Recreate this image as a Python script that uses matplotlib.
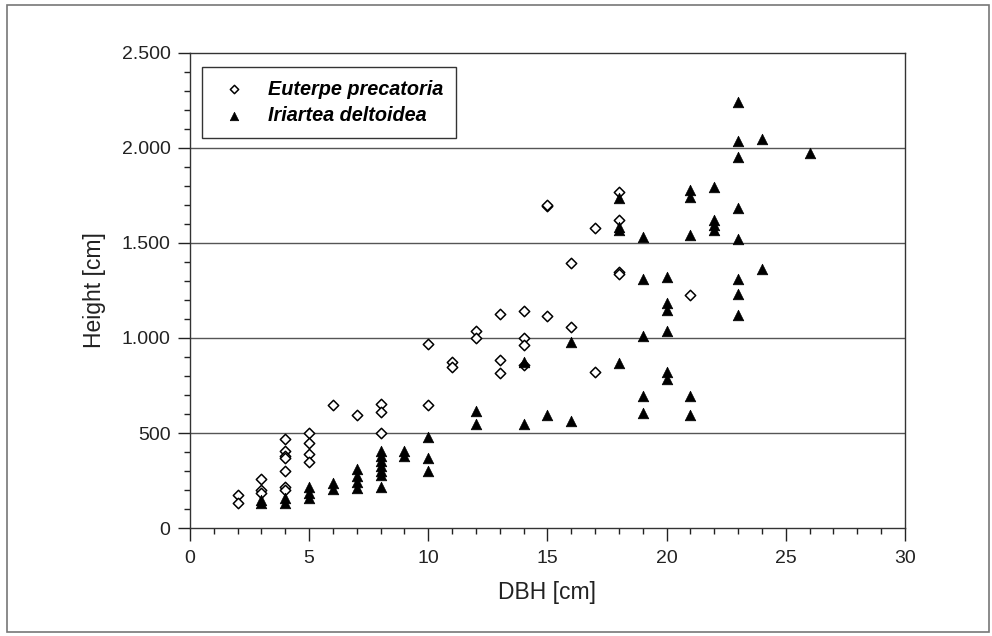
import matplotlib
matplotlib.use('Agg')
import matplotlib.pyplot as plt
from matplotlib.ticker import MultipleLocator, FuncFormatter
from matplotlib.patches import Rectangle

plt.rcParams['font.family'] = ['Liberation Sans', 'DejaVu Sans']

# Euterpe precatoria (open diamonds)
euterpe_dbh = [2, 2,
               3, 3, 3,
               4, 4, 4, 4, 4, 4, 4,
               5, 5, 5, 5,
               6, 7, 8, 8, 8,
               10, 10, 11, 11, 12, 12,
               13, 13, 13, 14, 14, 14, 14,
               15, 15, 15, 16, 16, 17, 17,
               18, 18, 18, 18, 21]
euterpe_height = [174, 132,
                  257, 200, 182,
                  470, 404, 379, 367, 302, 215, 198,
                  502, 449, 389, 349,
                  646, 597, 650, 610, 498,
                  967, 647, 875, 848, 1037, 998,
                  1125, 884, 814, 1142, 998, 963, 860,
                  1695, 1700, 1114, 1395, 1060, 1577, 823,
                  1770, 1621, 1345, 1338, 1226]

# Iriartea deltoidea (filled triangles)
iriartea_dbh = [3, 3, 4, 4, 5, 5, 5, 6, 6,
                7, 7, 7, 7,
                8, 8, 8, 8, 8, 8, 8,
                9, 9, 10, 10, 10,
                12, 12, 14, 14, 15, 16, 16,
                18, 18, 18, 18,
                19, 19, 19, 19, 19,
                20, 20, 20, 20, 20, 20,
                21, 21, 21, 21, 21,
                22, 22, 22, 22,
                23, 23, 23, 23, 23, 23, 23, 23,
                24, 24, 26]
iriartea_height = [130, 145, 156, 130, 217, 182, 156, 235, 207,
                   310, 275, 240, 213,
                   406, 380, 354, 328, 300, 279, 217,
                   406, 378, 477, 367, 302,
                   614, 547, 875, 547, 595, 981, 565,
                   1735, 1586, 1568, 870,
                   1533, 1310, 1013, 695, 604,
                   1323, 1182, 1147, 1035, 823, 782,
                   1779, 1744, 1542, 695, 597,
                   1796, 1621, 1595, 1568,
                   2244, 2037, 1954, 1686, 1522, 1308, 1229, 1121,
                   2046, 1363, 1975]

fig = plt.figure(figsize=(9.92, 6.36), dpi=100)
ax = fig.add_axes([0.1915, 0.1698, 0.7208, 0.7469])

# outer frame round the whole picture
fig.patches.append(Rectangle((0.007, 0.006), 0.99, 0.986, transform=fig.transFigure,
                             fill=False, edgecolor='#777777', linewidth=1.2))

for yy in [500, 1000, 1500, 2000]:
    ax.axhline(yy, color='#555555', linewidth=1.0, zorder=1)

ax.scatter(euterpe_dbh, euterpe_height, marker='D', s=28, facecolor='white',
           edgecolor='black', linewidth=1.1, zorder=3, label='Euterpe precatoria')
ax.scatter(iriartea_dbh, iriartea_height, marker='^', s=58, facecolor='black',
           edgecolor='black', linewidth=0.5, zorder=4, label='Iriartea deltoidea')

ax.set_xlim(0, 30)
ax.set_ylim(0, 2500)
ax.xaxis.set_major_locator(MultipleLocator(5))
ax.xaxis.set_minor_locator(MultipleLocator(1))
ax.yaxis.set_major_locator(MultipleLocator(500))
ax.yaxis.set_minor_locator(MultipleLocator(100))
ax.yaxis.set_major_formatter(FuncFormatter(lambda v, p: '{:,.0f}'.format(v).replace(',', '.')))

ax.tick_params(which='major', direction='out', length=9, width=1.0, labelsize=14, pad=5,
               colors='#222222')
ax.tick_params(which='minor', direction='out', length=4, width=1.0, colors='#222222')
ax.tick_params(axis='x', which='major', pad=7)
for sp in ax.spines.values():
    sp.set_color('#333333')
    sp.set_linewidth(1.0)

ax.set_xlabel('DBH [cm]', fontsize=16.5, color='#222222')
ax.set_ylabel('Height [cm]', fontsize=16.5, color='#222222')
ax.xaxis.set_label_coords(0.5, -0.112)
ax.yaxis.set_label_coords(-0.118, 0.5)

leg = ax.legend(loc='upper left', bbox_to_anchor=(0.017, 0.97), borderaxespad=0,
                fancybox=False, edgecolor='#333333', framealpha=1,
                prop={'size': 14.3, 'weight': 'bold', 'style': 'italic'},
                handletextpad=0.7, borderpad=0.62, labelspacing=0.4, markerscale=0.8)
leg.get_frame().set_linewidth(1.0)

plt.savefig('out.png', dpi=100)
